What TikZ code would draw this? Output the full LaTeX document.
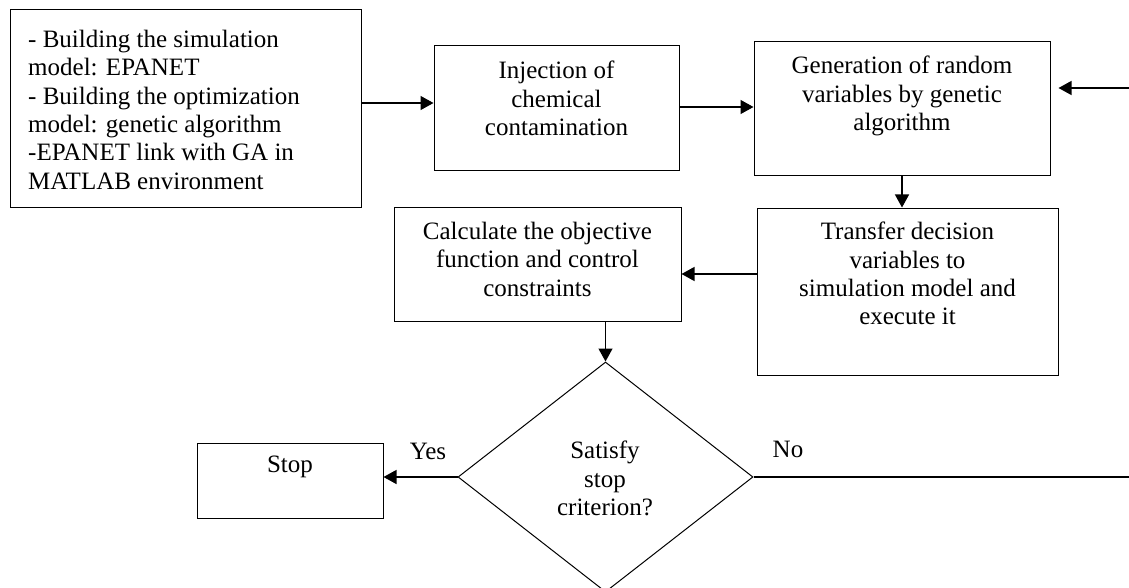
\documentclass[tikz,border=0pt]{standalone}
\usepackage{fontspec}
\setmainfont{Liberation Serif}
\usetikzlibrary{arrows.meta,shapes.geometric,calc}
\begin{document}
\begin{tikzpicture}[x=1pt,y=-1pt,
  font=\fontsize{25}{28.3}\selectfont,
  box/.style={draw, line width=1pt, inner sep=0pt, rectangle},
  txt/.style={inner sep=0pt, align=center, anchor=north},
  arr/.style={-{Triangle[length=13pt,width=14pt]}, line width=1.3pt},
  ]
\useasboundingbox (0,0) rectangle (1129,588);
% boxes
\node[box, minimum width=351pt, minimum height=197pt] (b1) at (185.5,108.5) {};
\node[box, minimum width=245pt, minimum height=125pt] (b2) at (556.5,108.5) {};
\node[box, minimum width=296pt, minimum height=134pt] (b3) at (902,109) {};
\node[box, minimum width=301pt, minimum height=167pt] (b4) at (907.5,291.5) {};
\node[box, minimum width=287pt, minimum height=114pt] (b5) at (537.5,264) {};
\node[box, minimum width=186pt, minimum height=75pt] (s) at (290,480.5) {};
\node[draw, line width=1pt, diamond, inner sep=0pt, minimum width=295pt, minimum height=230pt] (d) at (605.5,477) {};
% texts
\node[inner sep=0pt, align=left, anchor=north west] (t1) at (28,30) {- Building the simulation\\model: EPANET\\- Building the optimization\\model: genetic algorithm\\-EPANET link with GA in\\MATLAB environment};
\node[txt] (t2) at (556.5,61) {Injection of\\chemical\\contamination};
\node[txt] (t3) at (902,56) {Generation of random\\variables by genetic\\algorithm};
\node[txt] (t4) at (907.5,222) {Transfer decision\\variables to\\simulation model and\\execute it};
\node[txt] (t5) at (537.5,222) {Calculate the objective\\function and control\\constraints};
\node[txt] (ts) at (290,456) {Stop};
\node[txt] (td) at (605,441) {Satisfy\\stop\\criterion?};
\node[txt] (yes) at (428,443) {Yes};
\node[txt] (no) at (788,441) {No};
% connectors
\coordinate (r1) at (1129,88);
\coordinate (r2) at (1129,477);
\draw[arr] ([yshift=5.5pt]b1.east) -- ([yshift=5.5pt]b1.east -| b2.west);
\draw[arr] ([yshift=1.5pt]b2.east) -- ([yshift=1.5pt]b2.east -| b3.west);
\draw[arr, shorten >=8pt] (r1) -- (r1 -| b3.east);
\draw[arr] (b3.south) -- (b3.south |- b4.north);
\draw[arr] ([yshift=17.5pt]b4.west) -- ([yshift=17.5pt]b4.west -| b5.east);
\draw[arr] (b5.south -| d.north) -- (d.north);
\draw[arr] (d.west) -- (d.west -| s.east);
\draw[line width=1.8pt] (d.east) -- (r2);
\end{tikzpicture}
\end{document}
